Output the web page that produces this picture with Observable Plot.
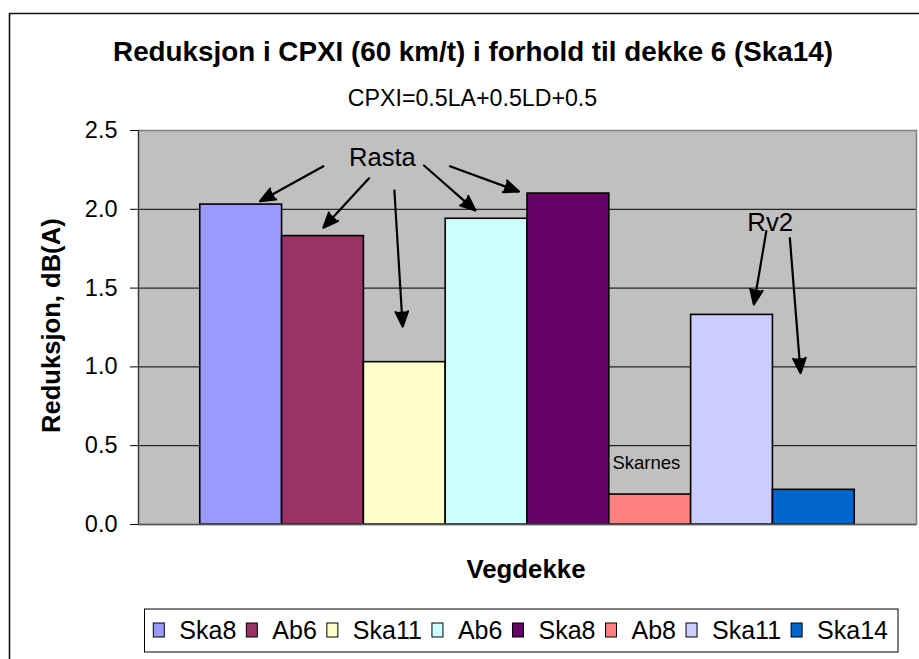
<!DOCTYPE html>
<html><head><meta charset="utf-8">
<script src="https://cdn.jsdelivr.net/npm/d3@7"></script>
<script src="https://cdn.jsdelivr.net/npm/@observablehq/plot@0.6"></script>
<style>
html,body{margin:0;padding:0;background:#fff;}
#chart{position:relative;width:919px;height:659px;overflow:hidden;background:#fff;}
</style></head><body><div id="chart"></div>
<script>
// ---- data ----
const categories = ["Ska8", "Ab6", "Ska11", "Ab6", "Ska8", "Ab8", "Ska11", "Ska14"];
const values = [2.03, 1.83, 1.03, 1.94, 2.10, 0.19, 1.33, 0.22];
const colors = ["#9999FF", "#993366", "#FFFFCC", "#CCFFFF", "#660066", "#FF8080", "#CCCCFF", "#0066CC"];
const yTicks = [0, 0.5, 1.0, 1.5, 2.0, 2.5];
const gridValues = [0.5, 1.0, 1.5, 2.0];
const titleText = "Reduksjon i CPXI (60 km/t) i forhold til dekke 6 (Ska14)";
const subtitleText = "CPXI=0.5LA+0.5LD+0.5";
const yLabelText = "Reduksjon, dB(A)";
const xLabelText = "Vegdekke";
// annotation labels (data units: x = bar index, y = dB)
const noteLabels = ["Rasta", "Rv2", "Skarnes"];
const noteX = [1.726, 6.467, 4.953];
const noteY = [2.272, 1.865, 0.353];
const noteSize = [25.6, 25.8, 18.5];
// annotation arrows (data units)
const arrowX1 = [1.005, 1.563, 1.873, 2.235, 2.552, 6.419, 6.707];
const arrowY1 = [2.273, 2.197, 2.119, 2.278, 2.273, 1.861, 1.817];
const arrowX2 = [0.231, 1.005, 1.974, 2.863, 3.396, 6.267, 6.838];
const arrowY2 = [2.051, 1.883, 1.256, 1.992, 2.113, 1.396, 0.960];

const FONT = '"Liberation Sans", Arial, Helvetica, sans-serif';
const bars = categories.map((c, i) => ({i, cat: c, value: values[i]}));
const notes = noteLabels.map((t, k) => ({t, x: noteX[k], y: noteY[k], s: noteSize[k]}));
const arrows = arrowX1.map((_, k) => ({x1: arrowX1[k], y1: arrowY1[k], x2: arrowX2[k], y2: arrowY2[k]}));

const svg = Plot.plot({
  width: 919, height: 659,
  marginLeft: 138, marginRight: 3, marginTop: 130, marginBottom: 135,
  style: {fontFamily: FONT, fontSize: "23.5px", background: "transparent", color: "#000", overflow: "visible"},
  x: {domain: [-1.255, 8.255], axis: null},
  y: {domain: [0, 2.5], ticks: yTicks, tickFormat: d3.format(".1f"), tickSize: 8, tickPadding: 13, label: null},
  color: {type: "ordinal", domain: d3.range(categories.length), range: colors},
  marks: [
    Plot.frame({fill: "#c0c0c0"}),
    Plot.ruleY(gridValues, {stroke: "#000", strokeWidth: 1}),
    Plot.rectY(bars, {x1: d => d.i - 0.5, x2: d => d.i + 0.5, y: "value", fill: "i", stroke: "#000", strokeWidth: 1.6}),
    Plot.frame({stroke: "#808080", strokeWidth: 1.5}),
    Plot.ruleX([-1.255], {stroke: "#333", strokeWidth: 1.2}),
    Plot.ruleY([0], {stroke: "#555", strokeWidth: 1.5}),
    Plot.arrow(arrows, {x1: "x1", y1: "y1", x2: "x2", y2: "y2", stroke: "#000", fill: "#000", strokeWidth: 2.2, headLength: 11, headAngle: 45}),
    ...notes.map(n => Plot.text([n], {x: "x", y: "y", text: "t", fontSize: n.s, lineAnchor: "bottom", textAnchor: "middle", fill: "#000"}))
  ]
});

document.getElementById("chart").appendChild(svg);
const s = d3.select(svg);

// outer chart frame
s.append("path").attr("d", "M9.5,659 V13.5 H919").attr("fill", "none").attr("stroke", "#111").attr("stroke-width", 1.6);

// title & subtitle
s.append("text").attr("x", 473).attr("y", 61).attr("text-anchor", "middle")
  .attr("font-family", FONT).attr("font-weight", "bold").attr("font-size", 27.8).text(titleText);
s.append("text").attr("x", 472.5).attr("y", 106).attr("text-anchor", "middle")
  .attr("font-family", FONT).attr("font-size", 23.2).text(subtitleText);

// axis titles
s.append("text").attr("transform", "translate(60,325.7) rotate(-90)").attr("text-anchor", "middle")
  .attr("font-family", FONT).attr("font-weight", "bold").attr("font-size", 25.6).text(yLabelText);
s.append("text").attr("x", 526).attr("y", 578).attr("text-anchor", "middle")
  .attr("font-family", FONT).attr("font-weight", "bold").attr("font-size", 25.8).text(xLabelText);

// legend
const lg = s.append("g").attr("text-anchor", "start");
lg.append("rect").attr("x", 144.5).attr("y", 609).attr("width", 753.5).attr("height", 43)
  .attr("fill", "#fff").attr("stroke", "#000").attr("stroke-width", 1);
const items = categories.map((c, i) => {
  const t = lg.append("text").attr("y", 639).attr("text-anchor", "start")
    .attr("font-family", FONT).attr("font-size", 25).text(c);
  return {t, w: t.node().getComputedTextLength(), i};
});
const startX = 153.3, endX = 888, sw = 11, sgap = 15;
const used = d3.sum(items, d => sw + sgap + d.w);
const gap = (endX - startX - used) / (items.length - 1);
let cx = startX;
items.forEach(d => {
  lg.append("rect").attr("x", cx).attr("y", 623).attr("width", sw).attr("height", 14)
    .attr("fill", colors[d.i]).attr("stroke", "#000").attr("stroke-width", 1);
  d.t.attr("x", cx + sw + sgap);
  cx += sw + sgap + d.w + gap;
});
</script></body></html>
